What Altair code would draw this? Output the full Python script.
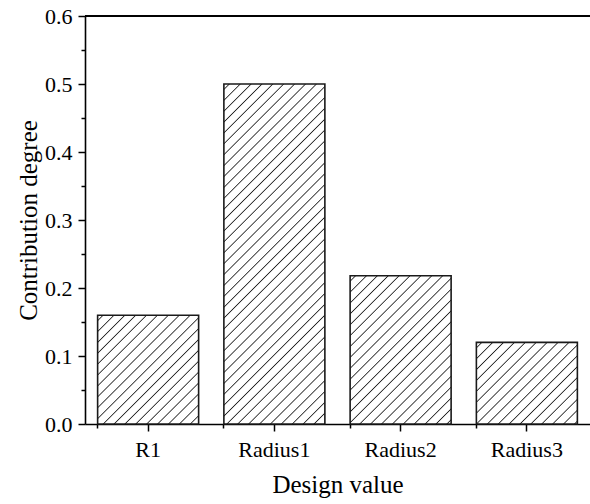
import math

import altair as alt
import pandas as pd

# Contribution of each design variable
categories = ["R1", "Radius1", "Radius2", "Radius3"]
contribution = [0.160, 0.500, 0.218, 0.120]

y_ticks = [0.0, 0.1, 0.2, 0.3, 0.4, 0.5, 0.6]
y_minor = [0.05, 0.15, 0.25, 0.35, 0.45, 0.55]

PLOT_W, PLOT_H = 505, 408
PAD_INNER, PAD_OUTER = 0.2, 0.1
HATCH_GAP = 7.7    # distance between hatch lines (px, perpendicular)
HATCH_HALF = 0.85  # half thickness of a hatch line (px)
FONT = "Liberation Serif"

df = pd.DataFrame({"design": categories, "degree": contribution})

step = PLOT_W / (len(categories) - PAD_INNER + 2 * PAD_OUTER)
bar_w = step * (1 - PAD_INNER)


def hatch_fill(h_px, w_px):
    """Linear gradient that paints 45-degree '/' hatching inside a w x h box."""
    a, b = 1.0 / h_px, 1.0 / w_px
    s = (a + b) / (a * a + b * b)
    length = (w_px + h_px) / math.sqrt(2)
    stops = [alt.GradientStop(color="white", offset=0)]
    d = HATCH_GAP / 2
    while d + HATCH_HALF < length:
        stops += [
            alt.GradientStop(color="white", offset=(d - HATCH_HALF) / length),
            alt.GradientStop(color="#262626", offset=d / length),
            alt.GradientStop(color="white", offset=(d + HATCH_HALF) / length),
        ]
        d += HATCH_GAP
    stops.append(alt.GradientStop(color="white", offset=1))
    return alt.LinearGradient(
        gradient="linear", stops=stops, x1=0, y1=0, x2=a * s, y2=b * s
    )


x_scale = alt.Scale(domain=categories, paddingInner=PAD_INNER, paddingOuter=PAD_OUTER)
y_scale = alt.Scale(domain=[0, 0.6], nice=False, zero=True)

x_axis_main = alt.Axis(
    orient="bottom", labelAngle=0, tickSize=7, labelPadding=8,
    title="Design value", titlePadding=12,
)
y_axis_main = alt.Axis(
    orient="left", values=y_ticks, format=".1f", tickSize=7, labelPadding=6,
    title="Contribution degree", titlePadding=3,
)

layers = []
for i, (cat, val) in enumerate(zip(categories, contribution)):
    h_px = val / 0.6 * PLOT_H
    layers.append(
        alt.Chart(df)
        .transform_filter(alt.datum.design == cat)
        .mark_bar(fill=hatch_fill(h_px, bar_w), stroke="#1a1a1a", strokeWidth=1.6)
        .encode(
            x=alt.X("design:N", sort=categories, scale=x_scale,
                    axis=x_axis_main if i == 0 else None),
            y=alt.Y("degree:Q", scale=y_scale,
                    axis=y_axis_main if i == 0 else None),
        )
    )

# Minor ticks: band boundaries on x, half steps on y
minor = (
    alt.Chart(df)
    .mark_point(opacity=0)
    .encode(
        x=alt.X("design:N", sort=categories, scale=x_scale,
                axis=alt.Axis(orient="bottom", bandPosition=0, tickSize=4,
                              labels=False, domain=False, title=None)),
        y=alt.Y("degree:Q", scale=y_scale,
                axis=alt.Axis(orient="left", values=y_minor, tickSize=4,
                              labels=False, domain=False, title=None)),
    )
)
layers.append(minor)

# Top frame line
top_line = (
    alt.Chart(df)
    .mark_rule(color="black", strokeWidth=1.6)
    .encode(x=alt.value(0), x2=alt.value(PLOT_W), y=alt.value(0))
)
layers.append(top_line)

chart = (
    alt.layer(*layers)
    .resolve_axis(x="independent", y="independent")
    .properties(
        width=PLOT_W,
        height=PLOT_H,
        autosize=alt.AutoSizeParams(type="none"),
        padding={"left": 85, "top": 16, "right": 0, "bottom": 80},
        background="white",
    )
    .configure_view(stroke=None)
    .configure_axis(
        domainColor="black",
        domainWidth=1.6,
        tickColor="black",
        tickWidth=1.5,
        labelColor="black",
        labelFont=FONT,
        labelFontSize=22,
        titleFont=FONT,
        titleFontSize=25,
        titleFontWeight="normal",
        titleColor="black",
        grid=False,
    )
)

chart.save("out.html", embed_options={"renderer": "svg", "actions": False})
